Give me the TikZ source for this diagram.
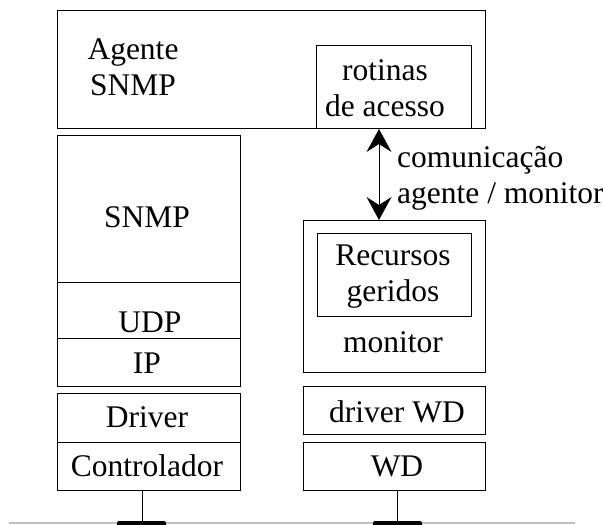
\documentclass[tikz,border=0pt]{standalone}
\usepackage{fontspec}
\setmainfont{Liberation Serif}
\usetikzlibrary{arrows.meta}
\tikzset{
  box/.style={draw=black, line width=1pt, inner sep=0pt, anchor=north west},
  lbl/.style={inner sep=0pt, align=center, font=\fontsize{31.5}{36}\selectfont},
  wire/.style={draw=black, line width=1pt},
  bus/.style={draw=black!25, line width=1.5pt},
  tap/.style={fill=black, rounded corners=2pt},
  link/.style={line width=1pt, {Stealth[length=23pt,width=25pt,inset=8pt]}-{Stealth[length=23pt,width=25pt,inset=8pt]}}
}
\begin{document}
\begin{tikzpicture}[x=1pt, y=-1pt]
\useasboundingbox (0,0) rectangle (603,525);
\clip (0,0) rectangle (603,525);

% agent block with its access routines
\node[box, minimum width=428pt, minimum height=118pt] (agent) at (57,10) {};
\node[box, minimum width=155pt, minimum height=83pt] (rot) at (316,45) {};
\node[lbl] (tagent) at (133,67) {Agente\\SNMP};
\node[lbl] (trot) at (385,88) {rotinas\\de acesso};

% protocol stack on the left
\node[box, minimum width=183pt, minimum height=147pt] (snmp) at (57,135) {};
\node[box, minimum width=183pt, minimum height=56pt] (udp) at (57,282) {};
\node[box, minimum width=183pt, minimum height=48pt] (ip) at (57,338) {};
\node[box, minimum width=183pt, minimum height=49pt] (drv) at (57,393) {};
\node[box, minimum width=183pt, minimum height=48pt] (ctl) at (57,442) {};
\node[lbl] (tsnmp) at (147,217) {SNMP};
\node[lbl] (tudp) at (150,322) {UDP};
\node[lbl] (tip) at (147,363) {IP};
\node[lbl] (tdrv) at (147,417) {Driver};
\node[lbl] (tctl) at (147,466) {Controlador};

% monitor side
\node[box, minimum width=182pt, minimum height=152pt] (mon) at (303,220) {};
\node[box, minimum width=154pt, minimum height=83pt] (rec) at (317,233) {};
\node[box, minimum width=182pt, minimum height=48pt] (wdd) at (303,386) {};
\node[box, minimum width=182pt, minimum height=48pt] (wd) at (303,442) {};
\node[lbl] (trec) at (393,277) {Recursos\\geridos};
\node[lbl] (tmon) at (393,342) {monitor};
\node[lbl] (twdd) at (397,412) {driver WD};
\node[lbl] (twd) at (397,466) {WD};

% communication between agent and monitor
\coordinate (ax) at (379,0);
\draw[link] (rot.south -| ax) -- (mon.north -| ax);
\node[lbl, align=left, anchor=west] (tcom) at (397,178) {comunicação\\agente / monitor};

% network attachment
\coordinate (busl) at (9,523);
\coordinate (busr) at (575,523);
\draw[bus] (busl) -- (busr);
\coordinate (sl) at (142,522);
\coordinate (sr) at (397,522);
\draw[wire] (ctl.south -| sl) -- (sl);
\draw[wire] (wd.south -| sr) -- (sr);
\path[tap] (117,521) rectangle (166,530);
\path[tap] (373,521) rectangle (422,530);
\end{tikzpicture}
\end{document}
